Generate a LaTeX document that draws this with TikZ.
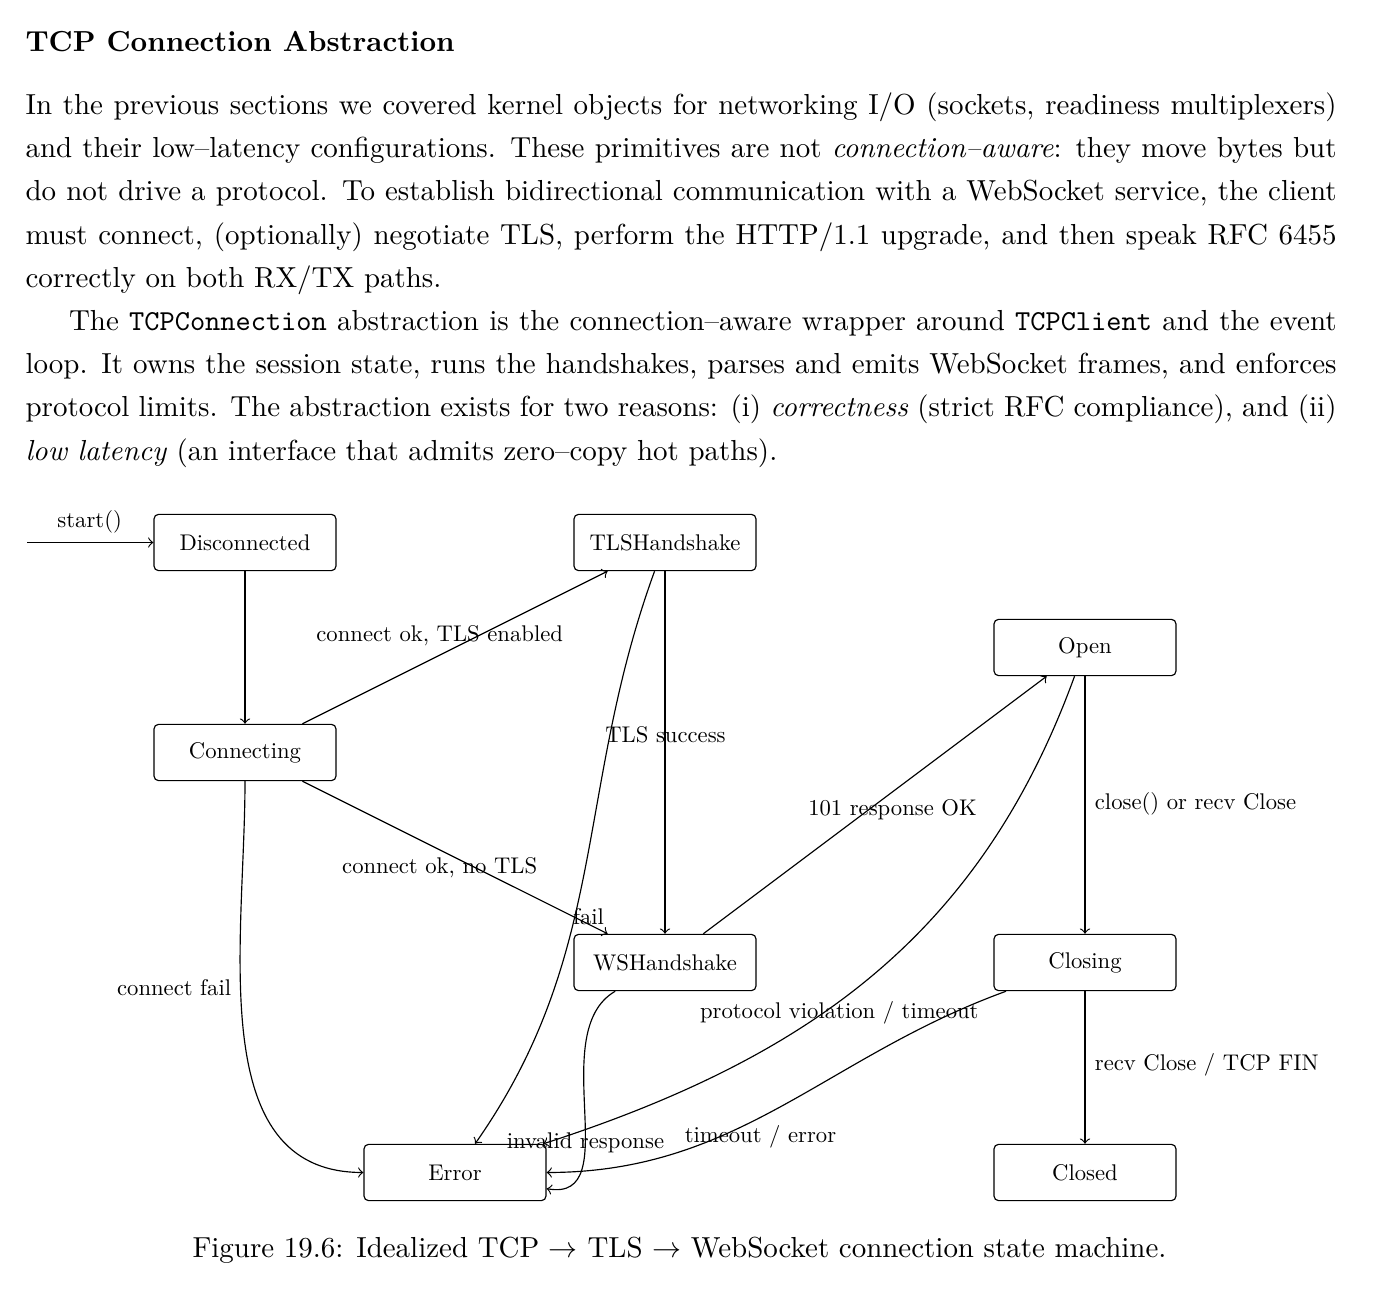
\documentclass[tikz,border=0pt]{standalone}
\usepackage{graphicx}
\newcommand{\dt}[1]{\scalebox{0.783}{#1}}
\begin{document}
\begin{tikzpicture}[x=0.3453pt, y=0.3453pt,
  stbox/.style={draw, rounded corners=1.6pt, minimum width=62.85pt, minimum height=19.45pt, inner sep=0pt, line width=0.4pt},
  lbl/.style={inner sep=0pt},
  arr/.style={->, line width=0.4pt},
]
\path[use as bounding box, fill=white] (0,0) rectangle (1386,-1308);

% heading and text
\node[anchor=base west, inner sep=0pt] (title) at (25,-51.7) {\textbf{TCP Connection Abstraction}};
\node[anchor=base west, inner sep=0pt] (body) at (25,-114.3) {\parbox[t]{452.7pt}{\fontsize{10}{14.93}\selectfont\setlength{\parindent}{15pt}\hbadness=10000\noindent In the previous sections we covered kernel objects for networking I/O (sockets, readiness multiplexers)\linebreak and their low–latency configurations. These primitives are not \emph{connection–aware}: they move bytes but\linebreak do not drive a protocol. To establish bidirectional communication with a WebSocket service, the client\linebreak must connect, (optionally) negotiate TLS, perform the HTTP/1.1 upgrade, and then speak RFC 6455\linebreak correctly on both RX/TX paths.\par The \texttt{TCPConnection} abstraction is the connection–aware wrapper around \texttt{TCPClient} and the event\linebreak loop. It owns the session state, runs the handshakes, parses and emits WebSocket frames, and enforces\linebreak protocol limits. The abstraction exists for two reasons: (i) \emph{correctness} (strict RFC compliance), and (ii)\linebreak \emph{low latency} (an interface that admits zero–copy hot paths).}};

% states
\node[stbox] (disc) at (245,-542.5) {\dt{Disconnected}};
\node[stbox] (tls) at (665,-542.5) {\dt{TLSHandshake}};
\node[stbox] (open) at (1085,-647.5) {\dt{Open}};
\node[stbox] (conn) at (245,-752.5) {\dt{Connecting}};
\node[stbox] (ws) at (665,-962.5) {\dt{WSHandshake}};
\node[stbox] (closing) at (1085,-962.5) {\dt{Closing}};
\node[stbox] (err) at (455,-1172.5) {\dt{Error}};
\node[stbox] (closed) at (1085,-1172.5) {\dt{Closed}};
\coordinate (init) at (27,-542.5);

% transitions
\draw[arr] (init) -- (disc);
\draw[arr] (disc) -- (conn);
\draw[arr] (conn) -- (tls);
\draw[arr] (conn) -- (ws);
\draw[arr] (conn) to[out=-90,in=180] (err);
\draw[arr] (tls) -- (ws);
\draw[arr] (tls) to[out=-110,in=55] (err);
\draw[arr] (ws) -- (open);
\draw[arr] (ws) to[out=-150,in=-10] (err);
\draw[arr] (open) -- (closing);
\draw[arr] (open) to[out=250,in=18] (err);
\draw[arr] (closing) -- (closed);
\draw[arr] (closing) to[out=200,in=0] (err);

% labels
\node[lbl, anchor=base] (lstart) at (89.7,-528) {\dt{start()}};
\node[lbl, anchor=base] (l1) at (439.7,-642) {\dt{connect ok, TLS enabled}};
\node[lbl, anchor=base] (l2) at (439.7,-873.5) {\dt{connect ok, no TLS}};
\node[lbl, anchor=base] (l3) at (665.5,-742.5) {\dt{TLS success}};
\node[lbl, anchor=base] (l4) at (892.5,-816) {\dt{101 response OK}};
\node[lbl, anchor=base west] (l5) at (1094.3,-810) {\dt{close() or recv Close}};
\node[lbl, anchor=base west] (l6) at (1094.3,-1071) {\dt{recv Close / TCP FIN}};
\node[lbl, anchor=base] (l7) at (839.3,-1018.3) {\dt{protocol violation / timeout}};
\node[lbl, anchor=base] (l8) at (760.5,-1142.7) {\dt{timeout / error}};
\node[lbl, anchor=base] (l9) at (585.5,-1148.3) {\dt{invalid response}};
\node[lbl, anchor=base] (l10) at (588.5,-925) {\dt{fail}};
\node[lbl, anchor=base east] (l11) at (231.7,-996) {\dt{connect fail}};

% caption
\node[anchor=base, inner sep=0pt] (cap) at (679.5,-1257.7) {Figure 19.6: Idealized TCP $\rightarrow$ TLS $\rightarrow$ WebSocket connection state machine.};
\end{tikzpicture}
\end{document}
